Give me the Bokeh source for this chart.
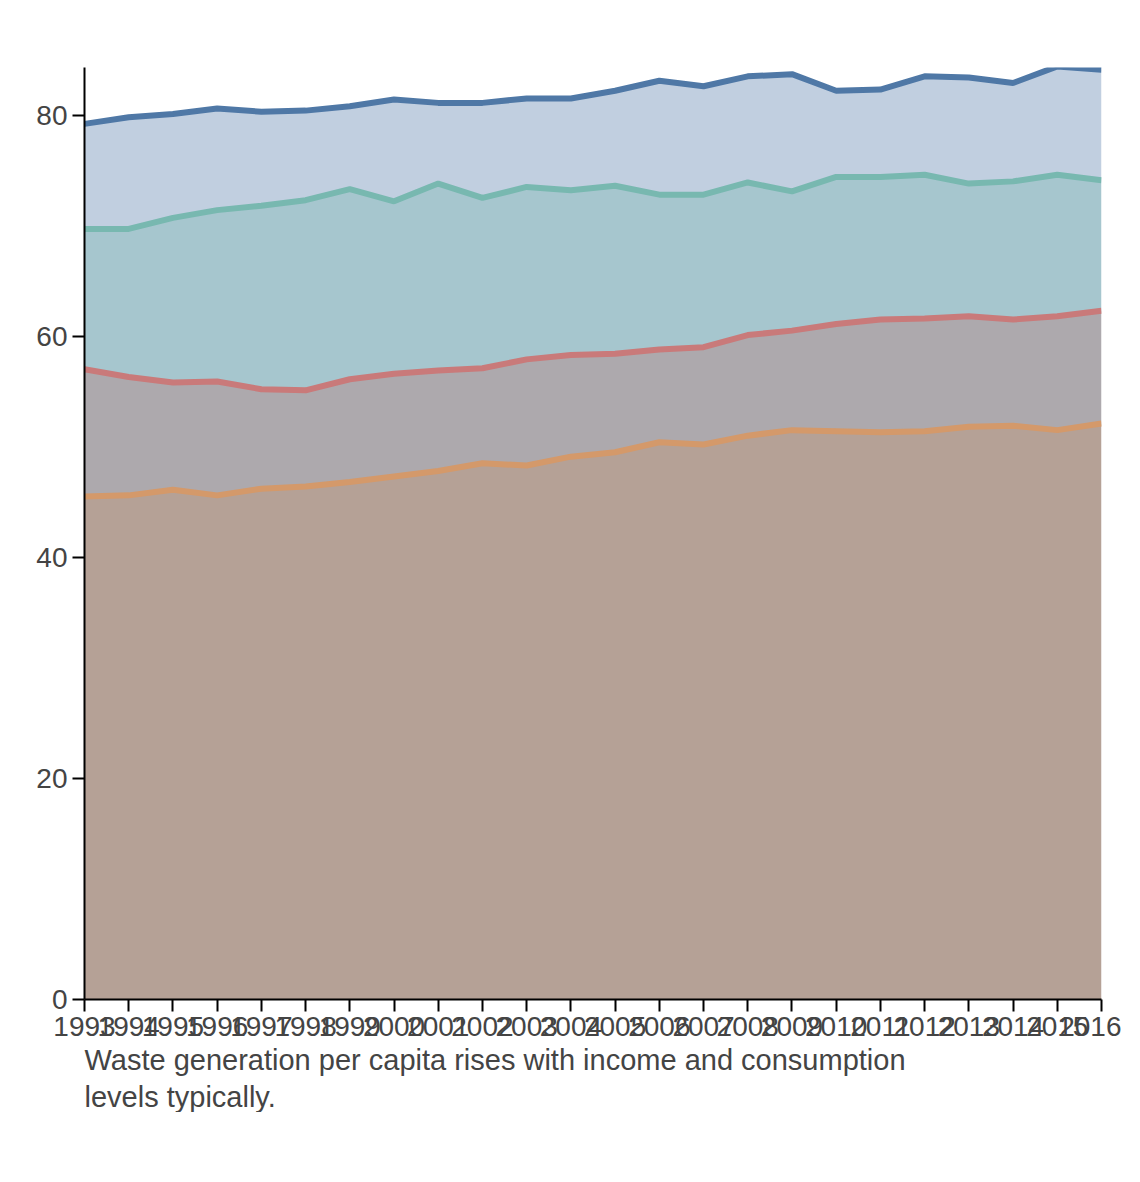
from bokeh.plotting import figure
from bokeh.models import Range1d, Legend, LegendItem, Title, FixedTicker
from bokeh.embed import file_html
from bokeh.resources import INLINE

years = list(range(1993, 2017))
jpn = [79.2,79.8,80.1,80.6,80.3,80.4,80.8,81.4,81.1,81.1,81.5,81.5,82.2,83.1,82.6,83.5,83.7,82.2,82.3,83.5,83.4,82.9,84.4,84.1]
vnm = [69.7,69.7,70.7,71.4,71.8,72.3,73.3,72.2,73.8,72.5,73.5,73.2,73.6,72.8,72.8,73.9,73.1,74.4,74.4,74.6,73.8,74.0,74.6,74.1]
ken = [57.0,56.3,55.8,55.9,55.2,55.1,56.1,56.6,56.9,57.1,57.9,58.3,58.4,58.8,59.0,60.1,60.5,61.1,61.5,61.6,61.8,61.5,61.8,62.3]
nga = [45.5,45.6,46.1,45.6,46.2,46.4,46.8,47.3,47.8,48.5,48.3,49.1,49.5,50.4,50.2,51.0,51.5,51.4,51.3,51.4,51.8,51.9,51.5,52.1]
names = ["JPN", "NGA", "KEN", "VNM"]
colors = {"JPN": "#4e79a7", "NGA": "#f28e2b", "KEN": "#e15759", "VNM": "#76b7b2"}
line_colors = {"JPN": "#4f78a6", "NGA": "#d4996a", "KEN": "#c97a7a", "VNM": "#78b8b0"}
series = {"JPN": jpn, "NGA": nga, "KEN": ken, "VNM": vnm}

p = figure(frame_width=1017, frame_height=932, output_backend="svg", toolbar_location=None,
           x_range=Range1d(1993, 2016), y_range=Range1d(0, 84.3),
           min_border_left=84, min_border_right=20, min_border_top=67, min_border_bottom=10)
p.xgrid.visible = False
p.ygrid.visible = False
p.outline_line_color = None

# blended region colours between the overlapping areas
p.varea(x=years, y1=0, y2=nga, fill_color="#b5a196")
p.varea(x=years, y1=nga, y2=ken, fill_color="#ada9ad")
p.varea(x=years, y1=ken, y2=vnm, fill_color="#a6c6ce")
p.varea(x=years, y1=vnm, y2=jpn, fill_color="#c1cfe0")
for n in ["NGA", "KEN", "VNM", "JPN"]:
    p.line(years, series[n], line_color=line_colors[n], line_width=6)

items = []
for n in names:
    r = p.scatter([1993], [-100], marker="square", size=26, color=colors[n])
    items.append(LegendItem(label=n, renderers=[r]))

leg = Legend(items=items, orientation="horizontal", label_text_font="Liberation Sans",
             label_text_font_size="30px", glyph_width=26, glyph_height=26, spacing=40,
             label_standoff=36, border_line_color=None, background_fill_alpha=0,
             margin=0, padding=0, location=(160, 950))
p.add_layout(leg)

for ax in [p.xaxis, p.yaxis]:
    ax.major_label_text_font = "Liberation Sans"
    ax.major_label_text_font_size = "28px"
    ax.major_label_text_color = "#444444"
    ax.axis_line_color = "black"
    ax.axis_line_width = 2
    ax.major_tick_line_width = 2
    ax.major_tick_out = 12
    ax.major_tick_in = 0
    ax.minor_tick_line_color = None
p.xaxis.ticker = FixedTicker(ticks=years)
p.yaxis.ticker = FixedTicker(ticks=[0, 20, 40, 60, 80])

p.add_layout(Title(text="Waste generation per capita rises with income and consumption",
                   text_font="Liberation Sans", text_font_size="29px", text_font_style="normal",
                   text_color="#444444", standoff=6), "below")
p.add_layout(Title(text="levels typically.", text_font="Liberation Sans", text_font_size="29px",
                   text_font_style="normal", text_color="#444444", standoff=0), "below")

open("out.html", "w").write(file_html(p, INLINE))
